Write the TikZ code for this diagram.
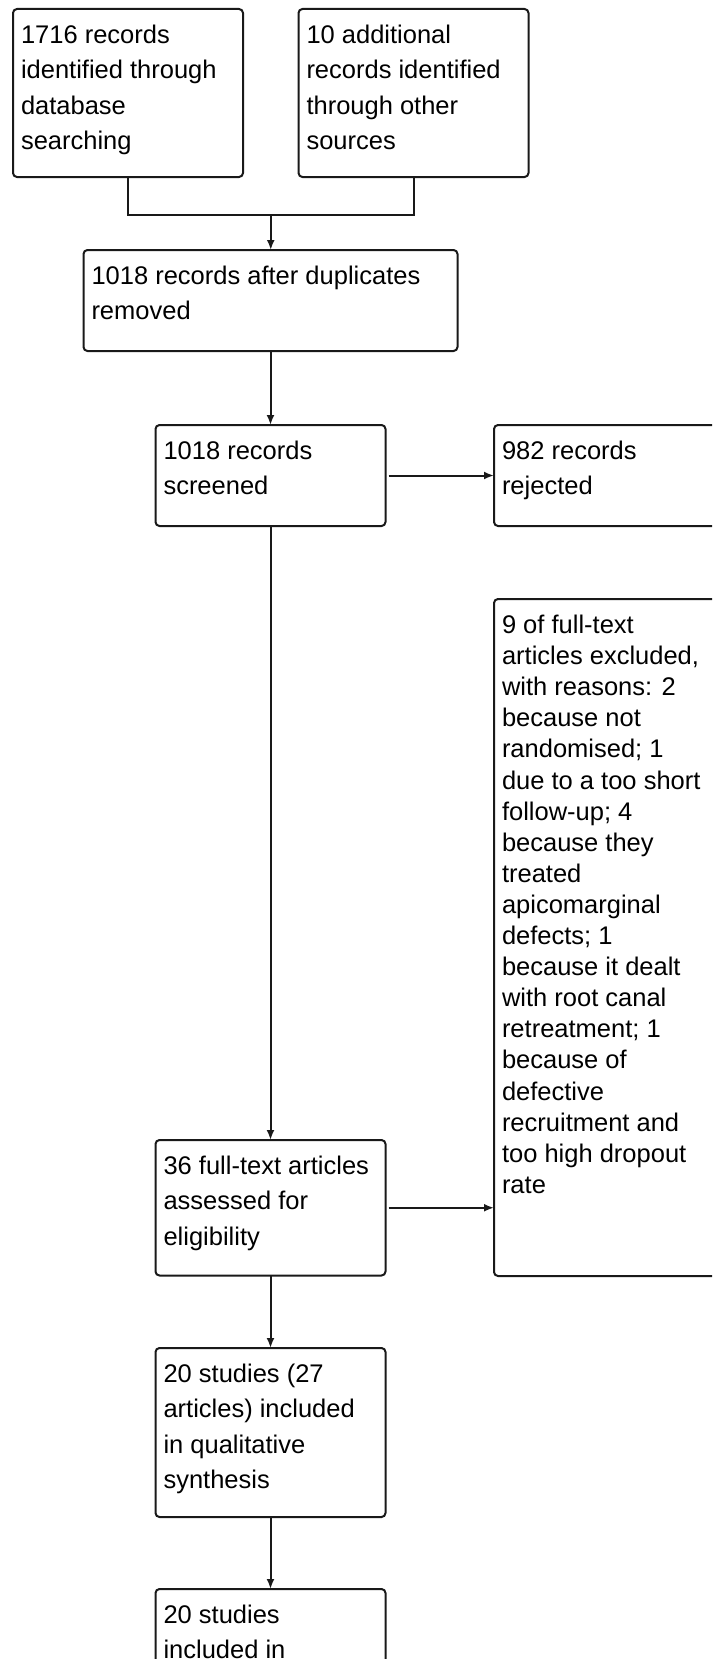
\documentclass[tikz,border=0pt]{standalone}
\usepackage{fontspec}
\setmainfont{Liberation Sans}
\usetikzlibrary{arrows.meta,positioning,calc}
\newcommand{\flowtext}[3]{\parbox[c][#2][t]{#1}{\raggedright\rule{0pt}{17.25pt}#3}}

\begin{document}
\begin{tikzpicture}[
  font=\fontsize{12.75pt}{17.7pt}\selectfont,
  flowbox/.style={rectangle, rounded corners=2pt, draw=black!90, line width=1pt, inner xsep=4pt, inner ysep=0pt, outer sep=0pt},
  link/.style={line width=1pt, black!90},
  arrow/.style={-{Latex[length=5pt,width=4pt]}, line width=1pt, black!90}
]
\useasboundingbox (0,0) rectangle (356pt,-829.5pt);
\clip (0,0) rectangle (356pt,-829.5pt);
\node[flowbox, anchor=north west] (ident) at (6.5pt,-4.5pt) {\flowtext{107pt}{84pt}{1716 records\\identified through\\database\\searching}};
\node[flowbox, right=27.75pt of ident] (other) {\flowtext{107pt}{84pt}{10 additional\\records identified\\through other\\sources}};
\node[flowbox, anchor=north] (dedup) at (135.25pt,-125pt) {\flowtext{179pt}{50.5pt}{1018 records after duplicates\\removed}};
\node[flowbox, below=37pt of dedup] (screen) {\flowtext{107pt}{50.5pt}{1018 records\\screened}};
\node[flowbox, right=54.25pt of screen] (reject) {\flowtext{107pt}{50.5pt}{982 records\\rejected}};
\node[flowbox, below=36.5pt of reject] (exclude) {\flowtext{107pt}{338.5pt}{\fontsize{12.75pt}{15.55pt}\selectfont 9 of full-text\\articles excluded,\\with reasons: 2\\because not\\randomised; 1\\due to a too short\\follow-up; 4\\because they\\treated\\apicomarginal\\defects; 1\\because it dealt\\with root canal\\retreatment; 1\\because of\\defective\\recruitment and\\too high dropout\\rate}};
\node[flowbox, below=307pt of screen] (fulltext) {\flowtext{107pt}{67.75pt}{36 full-text articles\\assessed for\\eligibility}};
\node[flowbox, below=36.25pt of fulltext] (qual) {\flowtext{107pt}{84.5pt}{20 studies (27\\articles) included\\in qualitative\\synthesis}};
\node[flowbox, below=36pt of qual] (quant) {\flowtext{107pt}{84.5pt}{20 studies\\included in}};
\coordinate (merge) at ($(ident.south)!0.5!(other.south)+(0,-19pt)$);
\draw[link] (ident.south) |- (merge) -| (other.south);
\draw[arrow] (merge) -- (merge |- dedup.north);
\draw[arrow] (dedup) -- (screen);
\draw[arrow, shorten <=1.5pt] (screen) -- (reject);
\draw[arrow] (screen) -- (fulltext);
\draw[arrow, shorten <=1.5pt] (fulltext.east) -- (fulltext.east -| exclude.west);
\draw[arrow] (fulltext) -- (qual);
\draw[arrow] (qual) -- (quant);
\end{tikzpicture}
\end{document}
